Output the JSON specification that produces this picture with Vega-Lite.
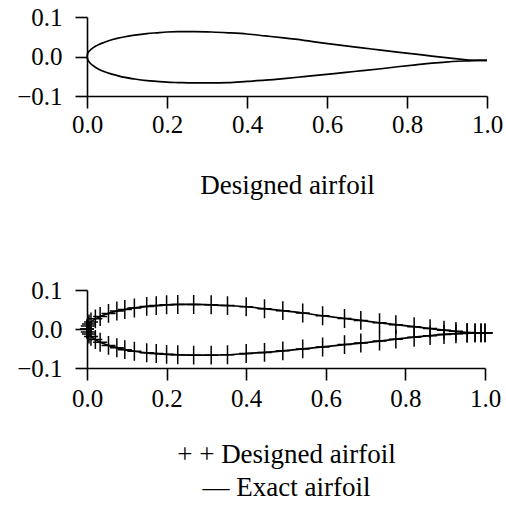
{
  "$schema": "https://vega.github.io/schema/vega-lite/v6.json",
  "background": "white",
  "padding": {"left": 16, "top": 5, "right": 0, "bottom": 0},
  "config": {
    "font": "Liberation Serif",
    "view": {"stroke": null},
    "concat": {"spacing": 80},
    "axis": {
      "domainColor": "black", "domainWidth": 1.6,
      "tickColor": "black", "tickWidth": 1.6, "tickSize": 12,
      "labelFont": "Liberation Serif", "labelFontSize": 25, "labelColor": "black",
      "labelFlush": false, "grid": false,
      "titleFont": "Liberation Serif", "titleFontSize": 27, "titleFontWeight": "normal", "titleColor": "black"
    }
  },
  "datasets": {
    "designed": [
      {"x": 0, "y": 0, "s": "upper"},
      {"x": 0.002, "y": 0.008, "s": "upper"},
      {"x": 0.005, "y": 0.013, "s": "upper"},
      {"x": 0.01, "y": 0.018, "s": "upper"},
      {"x": 0.021, "y": 0.026, "s": "upper"},
      {"x": 0.033, "y": 0.032, "s": "upper"},
      {"x": 0.054, "y": 0.04, "s": "upper"},
      {"x": 0.075, "y": 0.046, "s": "upper"},
      {"x": 0.095, "y": 0.05, "s": "upper"},
      {"x": 0.119, "y": 0.054, "s": "upper"},
      {"x": 0.15, "y": 0.058, "s": "upper"},
      {"x": 0.174, "y": 0.06, "s": "upper"},
      {"x": 0.2, "y": 0.062, "s": "upper"},
      {"x": 0.228, "y": 0.063, "s": "upper"},
      {"x": 0.268, "y": 0.063, "s": "upper"},
      {"x": 0.312, "y": 0.062, "s": "upper"},
      {"x": 0.353, "y": 0.06, "s": "upper"},
      {"x": 0.4, "y": 0.057, "s": "upper"},
      {"x": 0.446, "y": 0.052, "s": "upper"},
      {"x": 0.492, "y": 0.047, "s": "upper"},
      {"x": 0.542, "y": 0.041, "s": "upper"},
      {"x": 0.592, "y": 0.034, "s": "upper"},
      {"x": 0.647, "y": 0.027, "s": "upper"},
      {"x": 0.688, "y": 0.022, "s": "upper"},
      {"x": 0.735, "y": 0.016, "s": "upper"},
      {"x": 0.776, "y": 0.011, "s": "upper"},
      {"x": 0.822, "y": 0.006, "s": "upper"},
      {"x": 0.862, "y": 0.001, "s": "upper"},
      {"x": 0.897, "y": -0.003, "s": "upper"},
      {"x": 0.927, "y": -0.006, "s": "upper"},
      {"x": 0.955, "y": -0.009, "s": "upper"},
      {"x": 0.975, "y": -0.01, "s": "upper"},
      {"x": 0.99, "y": -0.01, "s": "upper"},
      {"x": 1.0, "y": -0.01, "s": "upper"},
      {"x": 0, "y": 0, "s": "lower"},
      {"x": 0.002, "y": -0.008, "s": "lower"},
      {"x": 0.005, "y": -0.013, "s": "lower"},
      {"x": 0.01, "y": -0.019, "s": "lower"},
      {"x": 0.021, "y": -0.027, "s": "lower"},
      {"x": 0.033, "y": -0.034, "s": "lower"},
      {"x": 0.054, "y": -0.042, "s": "lower"},
      {"x": 0.075, "y": -0.048, "s": "lower"},
      {"x": 0.095, "y": -0.053, "s": "lower"},
      {"x": 0.119, "y": -0.057, "s": "lower"},
      {"x": 0.15, "y": -0.061, "s": "lower"},
      {"x": 0.174, "y": -0.063, "s": "lower"},
      {"x": 0.2, "y": -0.065, "s": "lower"},
      {"x": 0.228, "y": -0.066, "s": "lower"},
      {"x": 0.268, "y": -0.067, "s": "lower"},
      {"x": 0.312, "y": -0.067, "s": "lower"},
      {"x": 0.353, "y": -0.066, "s": "lower"},
      {"x": 0.4, "y": -0.063, "s": "lower"},
      {"x": 0.446, "y": -0.06, "s": "lower"},
      {"x": 0.492, "y": -0.056, "s": "lower"},
      {"x": 0.542, "y": -0.051, "s": "lower"},
      {"x": 0.592, "y": -0.046, "s": "lower"},
      {"x": 0.647, "y": -0.04, "s": "lower"},
      {"x": 0.688, "y": -0.036, "s": "lower"},
      {"x": 0.735, "y": -0.031, "s": "lower"},
      {"x": 0.776, "y": -0.026, "s": "lower"},
      {"x": 0.822, "y": -0.021, "s": "lower"},
      {"x": 0.862, "y": -0.017, "s": "lower"},
      {"x": 0.897, "y": -0.014, "s": "lower"},
      {"x": 0.927, "y": -0.012, "s": "lower"},
      {"x": 0.955, "y": -0.011, "s": "lower"},
      {"x": 0.975, "y": -0.01, "s": "lower"},
      {"x": 0.99, "y": -0.01, "s": "lower"},
      {"x": 1.0, "y": -0.01, "s": "lower"}
    ],
    "tail": [
      {"x": 1.0, "y": -0.01, "s": "tail"},
      {"x": 1.02, "y": -0.01, "s": "tail"}
    ]
  },
  "vconcat": [
    {
      "width": 400,
      "height": 79,
      "data": {"name": "designed"},
      "mark": {"type": "line", "color": "black", "strokeWidth": 1.7, "interpolate": "monotone"},
      "encoding": {
        "x": {"field": "x", "type": "quantitative",
              "scale": {"domain": [0, 1], "nice": false, "zero": false},
              "axis": {"values": [0, 0.2, 0.4, 0.6, 0.8, 1], "format": ".1f", "title": "Designed airfoil", "labelPadding": 4, "titlePadding": 35}},
        "y": {"field": "y", "type": "quantitative",
              "scale": {"domain": [-0.1, 0.1], "nice": false, "zero": false},
              "axis": {"values": [-0.1, 0, 0.1], "format": ".1f", "title": null, "labelPadding": 13}},
        "detail": {"field": "s"}
      }
    },
    {
      "width": 398,
      "height": 78,
      "encoding": {
        "x": {"field": "x", "type": "quantitative",
              "scale": {"domain": [0, 1], "nice": false, "zero": false},
              "axis": {"values": [0, 0.2, 0.4, 0.6, 0.8, 1], "format": ".1f", "title": ["+ + Designed airfoil", "— Exact airfoil"], "titleLineHeight": 33, "labelPadding": 6, "titlePadding": 30}},
        "y": {"field": "y", "type": "quantitative",
              "scale": {"domain": [-0.1, 0.1], "nice": false, "zero": false},
              "axis": {"values": [-0.1, 0, 0.1], "format": ".1f", "title": null, "labelPadding": 13}},
        "detail": {"field": "s"}
      },
      "layer": [
        {"data": {"name": "designed"},
         "mark": {"type": "line", "color": "black", "strokeWidth": 1.7, "interpolate": "monotone"}},
        {"data": {"name": "tail"},
         "mark": {"type": "line", "color": "black", "strokeWidth": 1.7}},
        {"data": {"name": "designed"},
         "mark": {"type": "point", "shape": "M0,-1.35V1.35M-1,0H1", "size": 196, "filled": false, "stroke": "black", "strokeWidth": 1.5, "opacity": 1}}
      ]
    }
  ]
}
